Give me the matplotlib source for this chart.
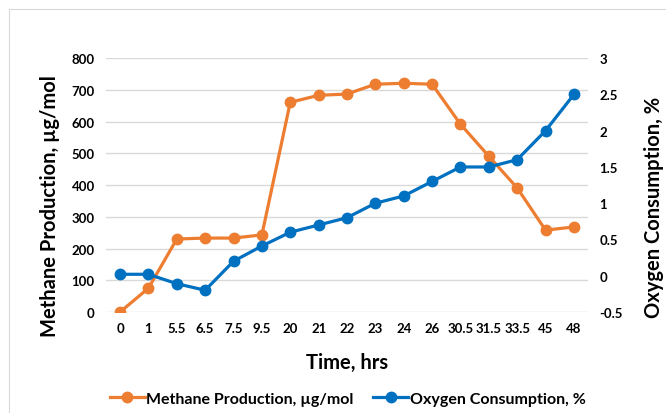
#!/usr/bin/env python3
# Methane production vs oxygen consumption, two y axes over categorical time

import matplotlib.pyplot as plt
from matplotlib.patches import Rectangle

time_labels = ["0", "1", "5.5", "6.5", "7.5", "9.5", "20", "21", "22", "23",
               "24", "26", "30.5", "31.5", "33.5", "45", "48"]
methane = [0, 75, 230, 233, 233, 243, 661, 683, 687, 718, 721, 718,
           592, 491, 391, 258, 268]
oxygen = [0.02, 0.02, -0.11, -0.2, 0.2, 0.41, 0.6, 0.7, 0.8, 1.0, 1.1, 1.3,
          1.5, 1.5, 1.6, 2.0, 2.5]

plt.rcParams["font.family"] = ["Lato", "DejaVu Sans"]
plt.rcParams["font.weight"] = "bold"

orange = "#ED7D31"
blue = "#0070C0"

fig = plt.figure(figsize=(6.66, 4.14), dpi=100)
fig.patches.append(Rectangle((0.014, -0.01), 1.0, 0.985, transform=fig.transFigure,
                             fill=False, edgecolor="#d9d9d9", linewidth=0.8))
ax = fig.add_axes([0.159, 0.244, 0.724, 0.613])
ax2 = ax.twinx()

x = list(range(len(time_labels)))
l1, = ax.plot(x, methane, color=orange, marker="o", markersize=7.5, linewidth=2.3,
              label="Methane Production, \u00b5g/mol", zorder=3)
l2, = ax2.plot(x, oxygen, color=blue, marker="o", markersize=7.5, linewidth=2.3,
               label="Oxygen Consumption, %", zorder=3)

ax.set_xlim(-0.5, len(x) - 0.5)
ax.set_ylim(0, 800)
ax.set_yticks(range(0, 801, 100))
ax2.set_ylim(-0.5, 3)
ax2.set_yticks([-0.5, 0, 0.5, 1, 1.5, 2, 2.5, 3])
ax2.set_yticklabels(["-0.5", "0", "0.5", "1", "1.5", "2", "2.5", "3"])
ax.set_xticks(x)
ax.set_xticklabels(time_labels)

ax.grid(axis="y", color="#d9d9d9", linewidth=1)
ax.set_axisbelow(True)
for a in (ax, ax2):
    for s in a.spines.values():
        s.set_visible(False)
    a.tick_params(length=0, labelsize=9.5, pad=8)
ax.tick_params(axis="x", pad=7)

ax.set_xlabel("Time, hrs", fontsize=14.5, fontweight="bold", labelpad=13)
ax.set_ylabel("Methane Production, \u00b5g/mol", fontsize=14.5, fontweight="bold")
ax2.set_ylabel("Oxygen Consumption, %", fontsize=14.5, fontweight="bold")
ax.yaxis.set_label_coords(-0.095, 0.42)
ax2.yaxis.set_label_coords(1.115, 0.415)

fig.legend(handles=[l1, l2], loc="center", bbox_to_anchor=(0.522, 0.035), ncol=2,
           frameon=False, fontsize=11.5, handlelength=2.2, columnspacing=1.2,
           handletextpad=0.1)

fig.savefig("out.png", dpi=100)
